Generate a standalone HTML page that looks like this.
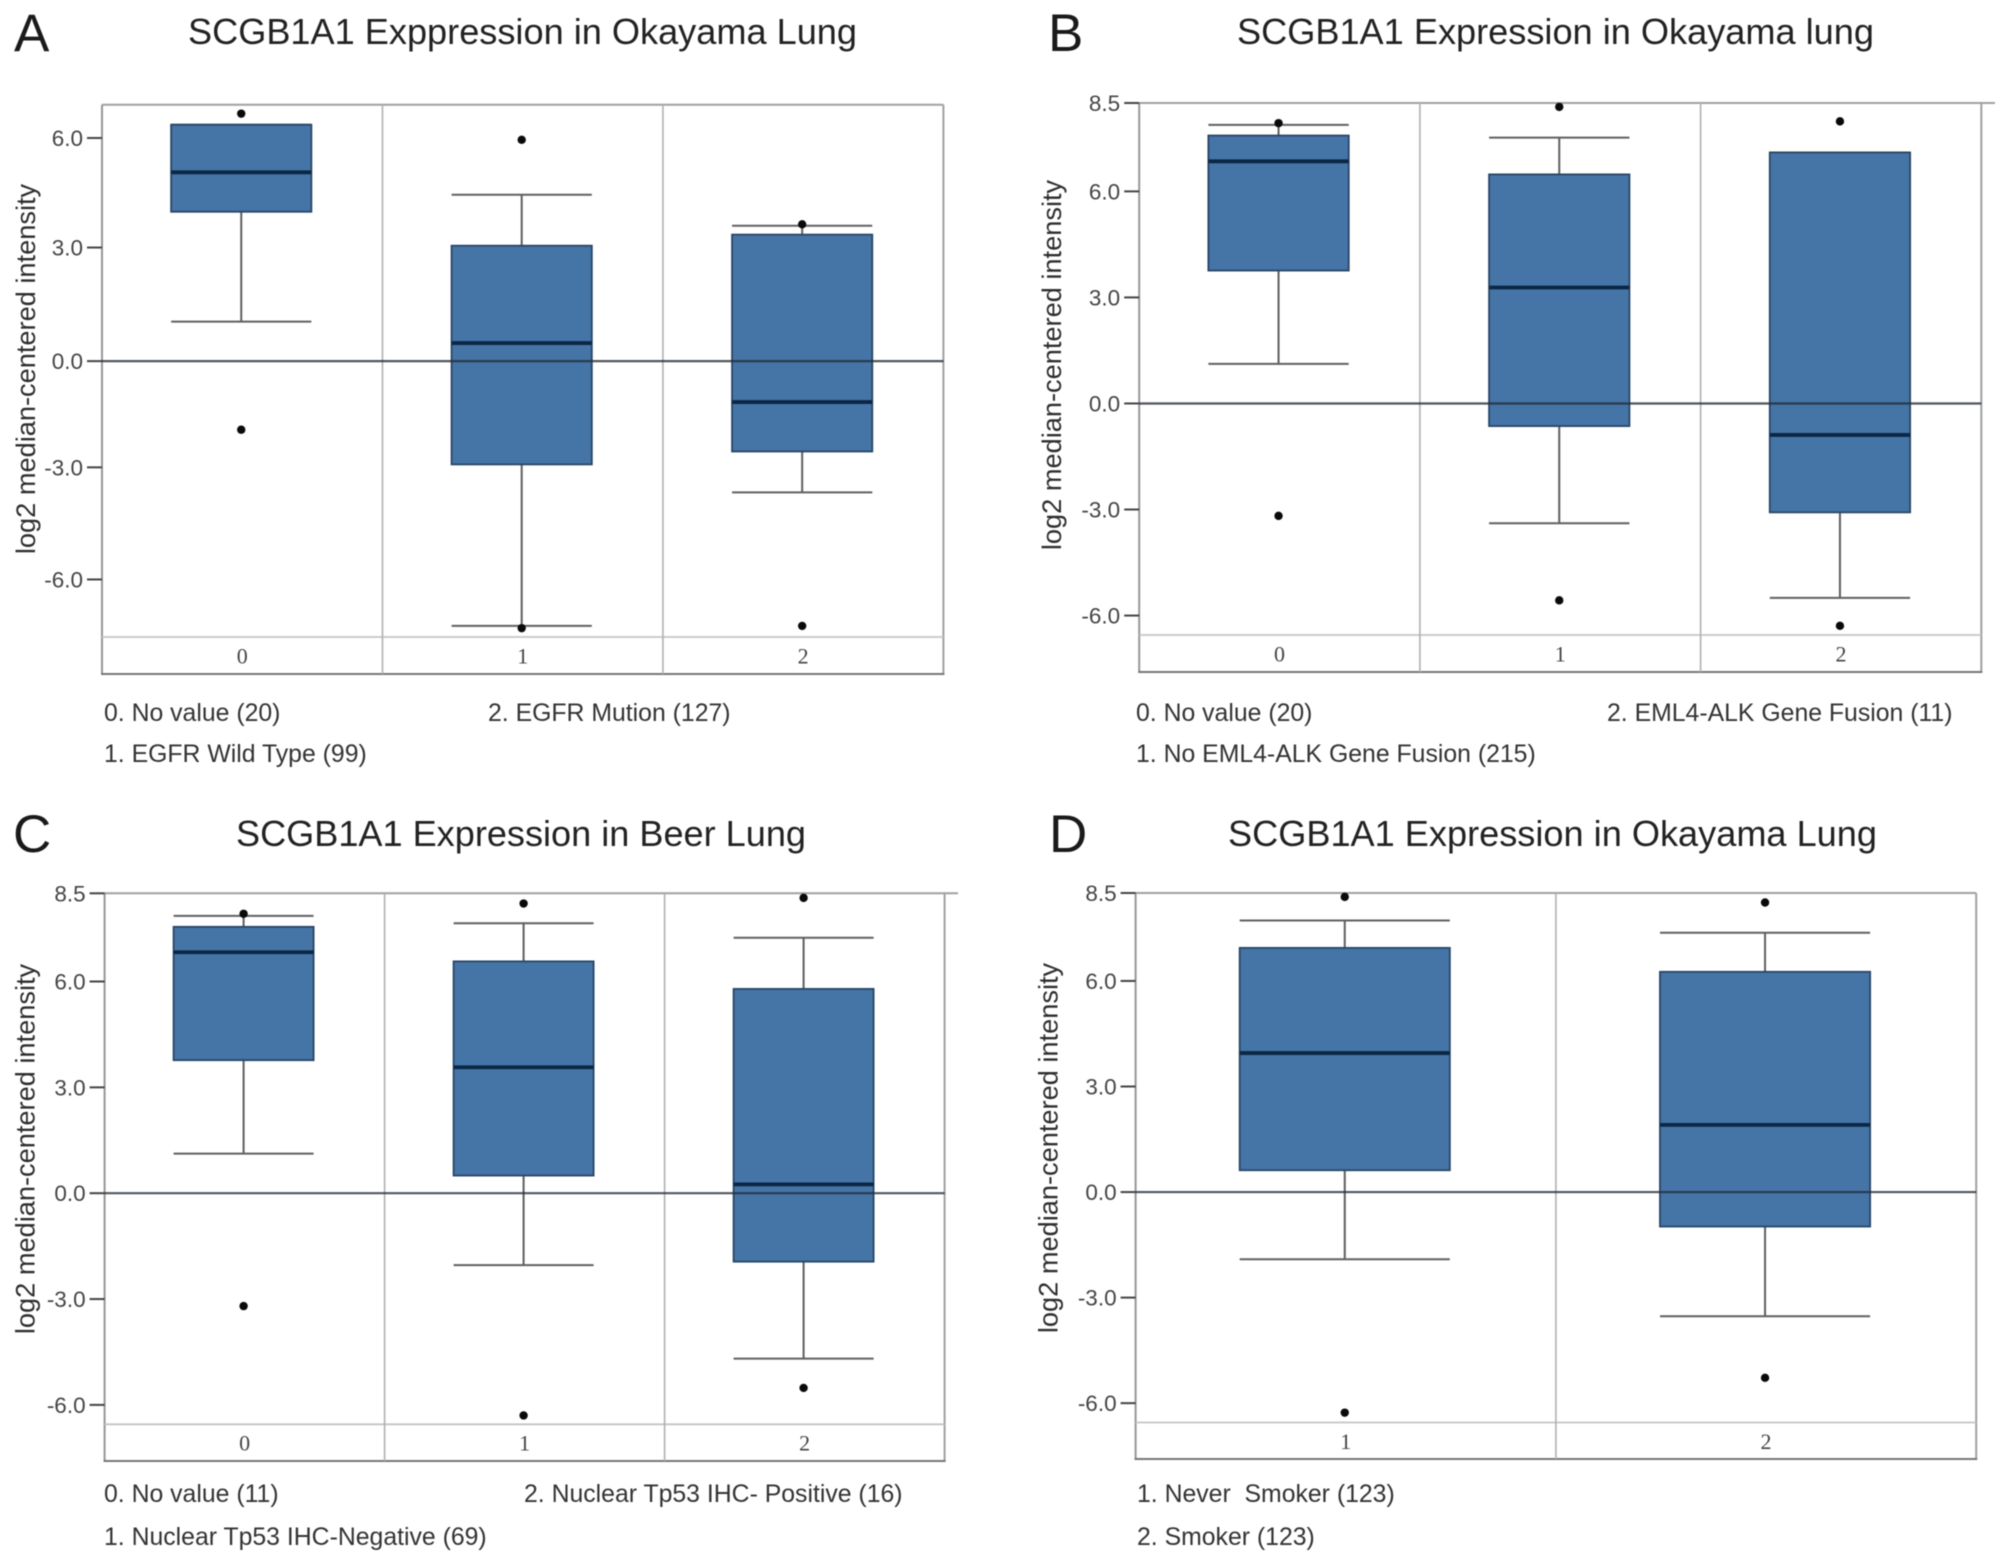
<!DOCTYPE html>
<html lang="en">
<head>
<meta charset="utf-8">
<title>SCGB1A1 Expression box plots</title>
<style>
html,body{margin:0;padding:0;background:#fff;}
svg{display:block;filter:blur(0.65px);}
text{font-family:"Liberation Sans",sans-serif;}
.letter{font-size:53px;fill:#1a1a1a;}
.title{font-size:36px;fill:#222;}
.ylabel{font-size:27.2px;fill:#2e2e2e;}
.legend{font-size:24.8px;fill:#333;}
.tick{font-size:22.5px;fill:#444;}
.cat{font-size:22px;fill:#444;font-family:"Liberation Serif",serif;}
</style>
</head>
<body>
<svg id="figure" xmlns="http://www.w3.org/2000/svg" width="2008" height="1564" viewBox="0 0 2008 1564">
  <rect x="0" y="0" width="2008" height="1564" fill="#ffffff"/>

  <text class="letter" x="14" y="51">A</text>
  <text class="title" x="188" y="44" textLength="669" lengthAdjust="spacingAndGlyphs">SCGB1A1 Exppression in Okayama Lung</text>
  <text class="ylabel" transform="translate(35,369) rotate(-90)" text-anchor="middle">log2 median-centered intensity</text>
  <text class="legend" x="104" y="721">0. No value (20)</text>
  <text class="legend" x="104" y="762">1. EGFR Wild Type (99)</text>
  <text class="legend" x="488" y="721">2. EGFR Mution (127)</text>

  <text class="letter" x="1048" y="51">B</text>
  <text class="title" x="1237" y="44" textLength="637" lengthAdjust="spacingAndGlyphs">SCGB1A1 Expression in Okayama lung</text>
  <text class="ylabel" transform="translate(1061,365) rotate(-90)" text-anchor="middle">log2 median-centered intensity</text>
  <text class="legend" x="1136" y="721">0. No value (20)</text>
  <text class="legend" x="1136" y="762">1. No EML4-ALK Gene Fusion (215)</text>
  <text class="legend" x="1607" y="721">2. EML4-ALK Gene Fusion (11)</text>

  <text class="letter" x="13" y="852">C</text>
  <text class="title" x="236" y="846" textLength="570" lengthAdjust="spacingAndGlyphs">SCGB1A1 Expression in Beer Lung</text>
  <text class="ylabel" transform="translate(34.5,1149) rotate(-90)" text-anchor="middle">log2 median-centered intensity</text>
  <text class="legend" x="104" y="1502">0. No value (11)</text>
  <text class="legend" x="104" y="1545">1. Nuclear Tp53 IHC-Negative (69)</text>
  <text class="legend" x="524" y="1502">2. Nuclear Tp53 IHC- Positive (16)</text>

  <text class="letter" x="1049" y="852">D</text>
  <text class="title" x="1228" y="846" textLength="649" lengthAdjust="spacingAndGlyphs">SCGB1A1 Expression in Okayama Lung</text>
  <text class="ylabel" transform="translate(1057.5,1148) rotate(-90)" text-anchor="middle">log2 median-centered intensity</text>
  <text class="legend" x="1137" y="1502">1. Never&#160; Smoker (123)</text>
  <text class="legend" x="1137" y="1545">2. Smoker (123)</text>
</svg>
<script>
// Panel A values
const categoriesA = ['0', '1', '2'];
const ticksA = ['6.0', '3.0', '0.0', '-3.0', '-6.0'];
const tickValuesA = [6.05, 3.08, 0, -2.88, -5.92];
const whiskerHighA = [6.41, 4.51, 3.67];
const q3A = [6.41, 3.13, 3.43];
const medianA = [5.12, 0.49, -1.11];
const q1A = [4.05, -2.80, -2.45];
const whiskerLowA = [1.07, -7.18, -3.56];
const outliersA = [[6.71, -1.86], [6.0, -7.24], [3.71, -7.18]];

// Panel B values
const categoriesB = ['0', '1', '2'];
const ticksB = ['8.5', '6.0', '3.0', '0.0', '-3.0', '-6.0'];
const tickValuesB = [8.5, 6, 3, 0, -3, -6];
const whiskerHighB = [7.88, 7.52, 7.10];
const q3B = [7.58, 6.48, 7.10];
const medianB = [6.85, 3.28, -0.89];
const q1B = [3.76, -0.64, -3.08];
const whiskerLowB = [1.12, -3.39, -5.50];
const outliersB = [[7.93, -3.18], [8.39, -5.57], [7.98, -6.29]];

// Panel C values
const categoriesC = ['0', '1', '2'];
const ticksC = ['8.5', '6.0', '3.0', '0.0', '-3.0', '-6.0'];
const tickValuesC = [8.5, 6, 3, 0, -3, -6];
const whiskerHighC = [7.86, 7.65, 7.24];
const q3C = [7.55, 6.57, 5.79];
const medianC = [6.83, 3.57, 0.25];
const q1C = [3.77, 0.50, -1.94];
const whiskerLowC = [1.12, -2.04, -4.69];
const outliersC = [[7.92, -3.20], [8.21, -6.30], [8.37, -5.52]];

// Panel D values
const categoriesD = ['1', '2'];
const ticksD = ['8.5', '6.0', '3.0', '0.0', '-3.0', '-6.0'];
const tickValuesD = [8.5, 6, 3, 0, -3, -6];
const whiskerHighD = [7.72, 7.37];
const q3D = [6.94, 6.26];
const medianD = [3.95, 1.91];
const q1D = [0.62, -0.98];
const whiskerLowD = [-1.91, -3.53];
const outliersD = [[8.39, -6.27], [8.23, -5.28]];

const NS = 'http://www.w3.org/2000/svg';
const figure = document.getElementById('figure');

function make(parent, tag, props) {
  const el = document.createElementNS(NS, tag);
  for (const key in props) {
    el.setAttribute(key, props[key]);
  }
  parent.appendChild(el);
  return el;
}

function seg(parent, x1, y1, x2, y2, stroke, width) {
  return make(parent, 'line', { x1: x1, y1: y1, x2: x2, y2: y2, stroke: stroke, 'stroke-width': width });
}

function drawPanel(id, layout, cats, ticks, tickValues, hi, q3, med, q1, lo, outs) {
  const g = make(figure, 'g', {});
  
  

  const yScale = (v) => layout.top + (layout.domainTop - v) * (layout.sep - layout.top) / (layout.domainTop - layout.domainBottom);
  const bandW = (layout.right - layout.left) / cats.length;
  const xCenter = (i) => layout.left + bandW * (i + 0.5) - 1;

  // plot frame
  const top = seg(g, layout.left, layout.top, layout.topEnd, layout.top, '#a0a0a0', 2);
  
  
  const left = seg(g, layout.left, layout.top, layout.left, layout.bottom, '#969696', 2);
  
  
  const right = seg(g, layout.right, layout.top, layout.right, layout.bottom, '#a0a0a0', 2);
  
  
  const bottom = seg(g, layout.left - 1, layout.bottom, layout.right + 1, layout.bottom, '#777', 2);
  
  
  const sep = seg(g, layout.left, layout.sep, layout.right, layout.sep, '#c4c4c4', 1.8);
  
  

  for (let i = 1; i < cats.length; i++) {
    const x = layout.left + bandW * i;
    const div = seg(g, x, layout.top, x, layout.bottom, '#b0b0b0', 1.6);
    
    
  }

  // y ticks
  ticks.forEach((label, i) => {
    const y = yScale(tickValues[i]);
    const mark = seg(g, layout.left - 15, y, layout.left, y, '#444', 2);
    
    
    const t = make(g, 'text', { x: layout.left - 19, y: y + 8, 'text-anchor': 'end', class: 'tick' });
    t.textContent = label;
    
    
  });

  // boxes
  cats.forEach((cat, i) => {
    const cx = xCenter(i);
    const half = bandW * 0.25;
    const stemUp = seg(g, cx, yScale(hi[i]), cx, yScale(q3[i]), '#5e5e5e', 2);
    
    
    const stemDown = seg(g, cx, yScale(q1[i]), cx, yScale(lo[i]), '#5e5e5e', 2);
    
    
    const capHi = seg(g, cx - half, yScale(hi[i]), cx + half, yScale(hi[i]), '#606060', 2);
    
    
    const capLo = seg(g, cx - half, yScale(lo[i]), cx + half, yScale(lo[i]), '#606060', 2);
    
    

    const box = make(g, 'rect', {
      x: cx - half,
      y: yScale(q3[i]),
      width: half * 2,
      height: yScale(q1[i]) - yScale(q3[i]),
      fill: '#4574a7',
      stroke: '#284666',
      'stroke-width': 1.8
    });
    
    

    const m = seg(g, cx - half, yScale(med[i]), cx + half, yScale(med[i]), '#0b2744', 3.8);
    
    

    const c = make(g, 'text', { x: cx + 1, y: (layout.sep + layout.bottom) / 2 + 8, 'text-anchor': 'middle', class: 'cat' });
    c.textContent = cat;
    
    
  });

  // zero reference line
  const zero = seg(g, layout.left, yScale(0), layout.right, yScale(0), 'rgba(35,45,55,0.8)', 2.2);
  
  

  // outliers
  outs.forEach((vals, i) => {
    vals.forEach((v) => {
      const dot = make(g, 'circle', { cx: xCenter(i), cy: yScale(v), r: 4.2, fill: '#0a0a0a' });
      
      
    });
  });
}

drawPanel('a', { left: 102, right: 943.4, topEnd: 943.4, top: 104.8, sep: 637, bottom: 674, domainTop: 6.95, domainBottom: -7.48 },
  categoriesA, ticksA, tickValuesA, whiskerHighA, q3A, medianA, q1A, whiskerLowA, outliersA);
drawPanel('b', { left: 1139.2, right: 1981.3, topEnd: 1995, top: 103, sep: 635, bottom: 672, domainTop: 8.5, domainBottom: -6.55 },
  categoriesB, ticksB, tickValuesB, whiskerHighB, q3B, medianB, q1B, whiskerLowB, outliersB);
drawPanel('c', { left: 104.6, right: 944.6, topEnd: 958, top: 893.3, sep: 1424.3, bottom: 1461, domainTop: 8.5, domainBottom: -6.55 },
  categoriesC, ticksC, tickValuesC, whiskerHighC, q3C, medianC, q1C, whiskerLowC, outliersC);
drawPanel('d', { left: 1135.6, right: 1976.2, topEnd: 1976.2, top: 893, sep: 1422.5, bottom: 1459, domainTop: 8.5, domainBottom: -6.55 },
  categoriesD, ticksD, tickValuesD, whiskerHighD, q3D, medianD, q1D, whiskerLowD, outliersD);
</script>
</body>
</html>
